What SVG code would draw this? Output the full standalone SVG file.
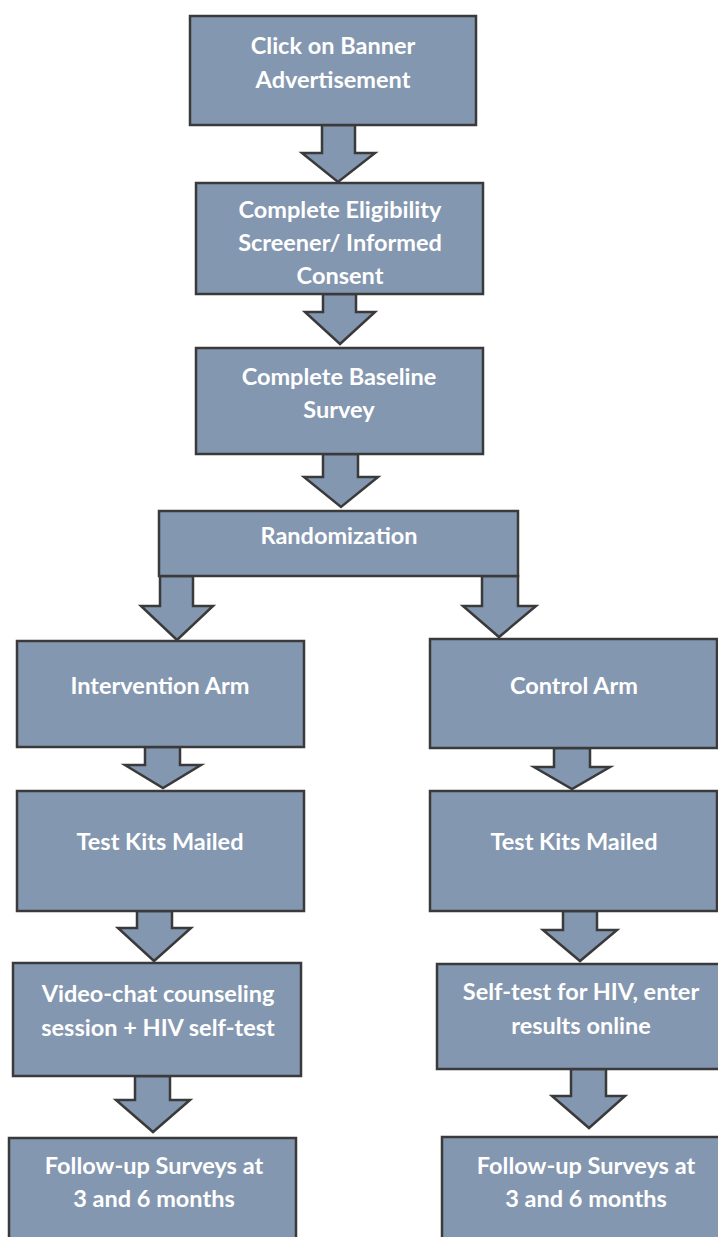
<svg xmlns="http://www.w3.org/2000/svg" width="718" height="1237" viewBox="0 0 718 1237">
<style>
.box{fill:#8497b0;stroke:#3a3a3a;stroke-width:2.5}
.arr{fill:#8497b0;stroke:#3a3a3a;stroke-width:2.5;stroke-linejoin:miter}
text{font-family:Lato,"Open Sans","Liberation Sans",sans-serif;font-weight:700;font-size:23.5px;fill:#ffffff;text-anchor:middle}
</style>
<rect width="718" height="1237" fill="#ffffff"/>
<g id="connectors">
<polygon class="arr" points="322,125 355,125 355,153 375,153 338,182 302,153 322,153"/>
<polygon class="arr" points="323,294 356,294 356,312 375,312 340,344 305,312 323,312"/>
<polygon class="arr" points="323,454 358,454 358,477 378,477 341,507 304,477 323,477"/>
<polygon class="arr" points="160,576 193,576 193,606 213,606 177,640 141,606 160,606"/>
<polygon class="arr" points="482,576 518,576 518,606 536,606 499,637 463,606 482,606"/>
<polygon class="arr" points="145,747 180,747 180,765 201,765 163,788 125,765 145,765"/>
<polygon class="arr" points="554,748 590,748 590,767 610,767 572,789 534,767 554,767"/>
<polygon class="arr" points="137,911 172,911 172,928 191,928 154,961 118,928 137,928"/>
<polygon class="arr" points="563,911 597,911 597,930 617,930 580,961 543,930 563,930"/>
<polygon class="arr" points="135,1076 170,1076 170,1100 190,1100 153,1132 116,1100 135,1100"/>
<polygon class="arr" points="571,1069 606,1069 606,1096 625,1096 589,1128 552,1096 571,1096"/>
</g>
<g id="n1"><rect class="box" x="190" y="16" width="286" height="109"/>
<text x="333" y="54">Click on Banner</text><text x="333" y="88">Advertisement</text></g>
<g id="n2"><rect class="box" x="196" y="183" width="287" height="111"/>
<text x="340" y="218">Complete Eligibility</text><text x="340" y="251">Screener/ Informed</text><text x="340" y="284">Consent</text></g>
<g id="n3"><rect class="box" x="196" y="348" width="287" height="106"/>
<text x="339" y="385">Complete Baseline</text><text x="339" y="418">Survey</text></g>
<g id="n4"><rect class="box" x="159" y="511" width="359" height="65"/>
<text x="339" y="544">Randomization</text></g>
<g id="n5"><rect class="box" x="17" y="641" width="287" height="106"/>
<text x="160" y="694">Intervention Arm</text></g>
<g id="n6"><rect class="box" x="430" y="639" width="287" height="109"/>
<text x="574" y="694">Control Arm</text></g>
<g id="n7"><rect class="box" x="17" y="791" width="287" height="120"/>
<text x="160" y="850">Test Kits Mailed</text></g>
<g id="n8"><rect class="box" x="430" y="791" width="287" height="120"/>
<text x="574" y="850">Test Kits Mailed</text></g>
<g id="n9"><rect class="box" x="13" y="963" width="288" height="113"/>
<text x="158" y="1002">Video-chat counseling</text><text x="158" y="1036">session + HIV self-test</text></g>
<g id="n10"><rect class="box" x="437" y="964" width="290" height="105"/>
<text x="581" y="1000">Self-test for HIV, enter</text><text x="581" y="1034">results online</text></g>
<g id="n11"><rect class="box" x="9" y="1138" width="287" height="110"/>
<text x="154" y="1174">Follow-up Surveys at</text><text x="154" y="1207">3 and 6 months</text></g>
<g id="n12"><rect class="box" x="442" y="1137" width="290" height="110"/>
<text x="586" y="1174">Follow-up Surveys at</text><text x="586" y="1207">3 and 6 months</text></g>
</svg>
